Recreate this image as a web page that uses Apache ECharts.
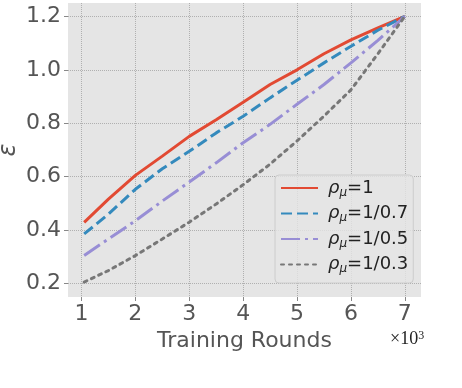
<!DOCTYPE html>
<html>
<head>
<meta charset="utf-8">
<script src="https://cdn.jsdelivr.net/npm/echarts@6/dist/echarts.min.js"></script>
<style>
  html, body { margin: 0; padding: 0; background: #fff; }
  #chart { width: 462px; height: 388px; }
</style>
</head>
<body>
<div id="chart"></div>
<script>
// training rounds (x10^3) and epsilon per rho_mu setting
const rounds = [1.05, 1.5, 2, 2.5, 3, 3.5, 4, 4.5, 5, 5.5, 6, 6.5, 7];
const eps1   = [0.429, 0.516, 0.605, 0.677, 0.751, 0.813, 0.879, 0.945, 1.000, 1.060, 1.112, 1.157, 1.2];
const eps07  = [0.386, 0.460, 0.553, 0.630, 0.695, 0.764, 0.826, 0.895, 0.961, 1.026, 1.088, 1.148, 1.2];
const eps05  = [0.305, 0.367, 0.435, 0.509, 0.580, 0.652, 0.727, 0.796, 0.871, 0.945, 1.026, 1.110, 1.2];
const eps03  = [0.206, 0.249, 0.305, 0.367, 0.430, 0.498, 0.570, 0.647, 0.734, 0.827, 0.925, 1.060, 1.2];
const ratios = ['1', '1/0.7', '1/0.5', '1/0.3'];
const xTicks = [1, 2, 3, 4, 5, 6, 7];
const yTicks = [0.2, 0.4, 0.6, 0.8, 1.0, 1.2];

const colors = ['#E24A33', '#348ABD', '#988ED5', '#777777'];
const dashes = ['solid', [11, 5], [19, 5, 3, 5], [3, 5]];
const values = [eps1, eps07, eps05, eps03];

var myChart = echarts.init(document.getElementById('chart'));

const series = ratios.map((r, i) => ({
  name: r,
  type: 'line',
  symbol: 'none',
  data: rounds.map((x, j) => [x, values[i][j]]),
  lineStyle: { color: colors[i], width: 3, type: dashes[i], cap: i === 3 ? 'round' : 'butt' },
  itemStyle: { color: colors[i] }
}));

const option = {
  animation: false,
  backgroundColor: '#fff',
  grid: { left: 68, right: 41, top: 3, bottom: 91, show: true, backgroundColor: '#E5E5E5', borderWidth: 0 },
  xAxis: {
    type: 'value', min: 0.75, max: 7.3,
    axisLine: { show: false },
    axisTick: { show: true, length: 4, lineStyle: { color: '#888' }, customValues: xTicks },
    axisLabel: { color: '#555', fontSize: 22, fontFamily: 'DejaVu Sans', margin: 6, customValues: xTicks },
    splitLine: { show: true, lineStyle: { color: '#b0b0b0', type: 'dotted', width: 1 } },
    name: 'Training Rounds', nameLocation: 'middle', nameGap: 30,
    nameTextStyle: { color: '#555', fontSize: 22, fontFamily: 'DejaVu Sans' }
  },
  yAxis: {
    type: 'value', min: 0.15, max: 1.25,
    axisLine: { show: false },
    axisTick: { show: true, length: 4, lineStyle: { color: '#888' }, customValues: yTicks },
    axisLabel: { color: '#555', fontSize: 22, fontFamily: 'DejaVu Sans', margin: 7, customValues: yTicks,
      formatter: v => v.toFixed(1) },
    splitLine: { show: true, lineStyle: { color: '#b0b0b0', type: 'dotted', width: 1 } }
  },
  legend: {
    orient: 'vertical', left: 275, top: 175,
    padding: [4, 5, 8, 5], itemGap: 6, itemWidth: 37, itemHeight: 12,
    backgroundColor: 'rgba(229,229,229,0.8)', borderColor: '#cccccc', borderWidth: 1, borderRadius: 4,
    itemStyle: { opacity: 0 },
    data: ratios,
    formatter: name => '{r|ρ}{s|μ}{t|=' + name + '}',
    textStyle: {
      color: '#222', fontFamily: 'DejaVu Sans',
      rich: {
        r: { fontSize: 18, fontStyle: 'italic', fontFamily: 'DejaVu Sans', color: '#222', lineHeight: 21, padding: [0, 0, 0, 5] },
        s: { fontSize: 12, fontStyle: 'italic', fontFamily: 'DejaVu Sans', color: '#222', lineHeight: 21, verticalAlign: 'bottom', padding: [6, 0, 0, 0] },
        t: { fontSize: 18, fontFamily: 'DejaVu Sans', color: '#222', lineHeight: 21 }
      }
    }
  },
  graphic: [
    { type: 'text', x: 9, y: 150, rotation: Math.PI / 2,
      style: { text: 'ε', font: 'italic 24px "DejaVu Sans"', fill: '#555', align: 'center', verticalAlign: 'middle' } },
    { type: 'text', x: 390, y: 330,
      style: { text: '×10{s|3}', font: '18px "Liberation Serif"', fill: '#222', verticalAlign: 'top',
        rich: { s: { fontSize: 12, fontFamily: 'Liberation Serif', fill: '#222', verticalAlign: 'top', padding: [0, 0, 7, 0] } } } }
  ],
  series: series
};
myChart.setOption(option);
</script>
</body>
</html>
